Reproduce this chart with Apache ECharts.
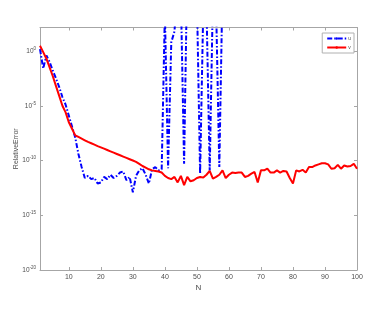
<!DOCTYPE html>
<html>
<head>
<meta charset="utf-8">
<script src="https://cdn.jsdelivr.net/npm/echarts@6/dist/echarts.min.js"></script>
<style>
html,body{margin:0;padding:0;background:#fff;}
#c{width:383px;height:309px;}
</style>
</head>
<body>
<div id="c"></div>
<script>
// N values (x axis)
const N = [1,2,3,4,5,6,7,8,9,10,11,12,13,14,15,16,17,18,19,20,
  21,22,23,24,25,26,27,28,29,30,31,32,33,34,35,36,37,38,39,40,
  41,42,43,44,45,46,47,48,49,50,51,52,53,54,55,56,57,58,59,60,
  61,62,63,64,65,66,67,68,69,70,71,72,73,74,75,76,77,78,79,80,
  81,82,83,84,85,86,87,88,89,90,91,92,93,94,95,96,97,98,99,100];

// log10 of relative error, series "u" (blue, dash-dot)
const blueLog10 = [0.17,-1.6,-0.4,-1.0,-1.8,-2.5,-3.3,-4.2,-4.9,-5.9,
  -6.9,-7.9,-9.4,-10.6,-11.6,-11.4,-11.7,-11.6,-12.1,-12.0,
  -11.5,-11.7,-11.3,-11.6,-11.4,-11.1,-11.0,-11.8,-11.5,-12.9,
  -11.4,-10.9,-10.7,-11.3,-12.1,-10.8,-10.6,-10.9,-10.8,3.5,
  -10.7,0.8,1.8,6,5,-10.3,8,10,9,5,
  -11.2,4,4,-10.9,5,4,-10.6,6,9,12,
  14,16,15,18,20,19,22,24,23,26,
  27,29,28,31,33,32,35,36,38,37,
  40,41,43,42,45,47,46,49,50,52,
  51,54,55,57,56,59,60,62,61,64];

// log10 of relative error, series "v" (red, solid)
const redLog10 = [0.48,-0.1,-0.7,-1.5,-2.3,-3.2,-4.1,-5.0,-5.6,-6.5,
  -7.1,-7.7,-7.85,-8.0,-8.15,-8.3,-8.42,-8.55,-8.68,-8.8,
  -8.92,-9.04,-9.16,-9.28,-9.4,-9.52,-9.64,-9.76,-9.88,-10.0,
  -10.12,-10.3,-10.5,-10.65,-10.8,-10.9,-10.95,-11.0,-11.1,-11.4,
  -11.6,-11.7,-11.5,-12.0,-11.4,-12.25,-11.5,-11.9,-11.8,-11.6,
  -11.5,-11.55,-11.3,-10.95,-11.65,-11.5,-11.3,-10.9,-11.6,-11.3,
  -11.1,-11.15,-11.1,-11.1,-11.5,-11.4,-11.2,-11.05,-12.0,-10.9,
  -10.9,-10.75,-11.1,-11.1,-10.9,-11.1,-10.95,-11.0,-11.6,-12.1,
  -10.9,-11.0,-10.85,-11.1,-10.6,-10.6,-10.45,-10.35,-10.25,-10.25,
  -10.35,-10.75,-10.7,-10.4,-10.75,-10.45,-10.55,-10.5,-10.3,-10.75];

const seriesNames = ['u', 'v'];
const xTickValues = [10,20,30,40,50,60,70,80,90,100];
const yTickExponents = [-20,-15,-10,-5,0];

const font = 'Liberation Sans, Arial, sans-serif';
const axisGrey = '#a6a6a6';
const textGrey = '#4d4d4d';

const chart = echarts.init(document.getElementById('c'), null, {renderer: 'canvas'});
const xCommon = {
  type: 'value', min: 1, max: 100,
  splitLine: {show: false},
  axisLine: {show: true, onZero: false, lineStyle: {color: axisGrey, width: 1}},
  axisTick: {show: true, inside: true, length: 3, customValues: xTickValues, lineStyle: {color: axisGrey}}
};
const yCommon = {
  type: 'value', min: -20, max: 2.15, interval: 5,
  splitLine: {show: false},
  axisLine: {show: true, onZero: false, lineStyle: {color: axisGrey, width: 1}},
  axisTick: {show: true, inside: true, length: 3, customValues: yTickExponents, lineStyle: {color: axisGrey}}
};

chart.setOption({
  animation: false,
  backgroundColor: '#ffffff',
  grid: {left: 40, right: 26, top: 27.5, bottom: 39, containLabel: false},
  legend: {
    data: seriesNames,
    orient: 'vertical',
    right: 29, top: 33,
    itemWidth: 19, itemHeight: 3, itemGap: 4,
    padding: [3, 3, 3, 4],
    borderColor: '#b0b0b0', borderWidth: 1, backgroundColor: '#ffffff',
    textStyle: {fontSize: 5, color: textGrey, fontFamily: font, padding: [0,0,0,-3]}
  },
  xAxis: [
    Object.assign({}, xCommon, {
      position: 'bottom',
      axisLabel: {customValues: xTickValues, fontSize: 7, color: textGrey, fontFamily: font, margin: 4},
      name: 'N', nameLocation: 'middle', nameGap: 14, nameMoveOverlap: false,
      nameTextStyle: {fontSize: 8, color: textGrey, fontFamily: font}
    }),
    Object.assign({}, xCommon, {position: 'top', axisLabel: {show: false}})
  ],
  yAxis: [
    Object.assign({}, yCommon, {
      position: 'left',
      axisLabel: {
        customValues: yTickExponents, margin: 4,
        formatter: v => '{b|10}{s|' + v + '}',
        rich: {
          b: {fontSize: 6.5, color: textGrey, fontFamily: font, lineHeight: 10},
          s: {fontSize: 4.5, color: textGrey, fontFamily: font, verticalAlign: 'top', lineHeight: 10}
        }
      },
      name: 'RelativeError', nameLocation: 'middle', nameGap: 20, nameMoveOverlap: false,
      nameTextStyle: {fontSize: 7, color: textGrey, fontFamily: font}
    }),
    Object.assign({}, yCommon, {position: 'right', axisLabel: {show: false}})
  ],
  series: [
    {
      name: seriesNames[0], type: 'line', xAxisIndex: 0, yAxisIndex: 0,
      data: N.map((n, i) => [n, blueLog10[i]]),
      symbol: 'none', clip: true,
      lineStyle: {color: '#0000ff', width: 2, type: [5, 2, 1.5, 2]},
      itemStyle: {color: '#0000ff'}
    },
    {
      name: seriesNames[1], type: 'line', xAxisIndex: 0, yAxisIndex: 0,
      data: N.map((n, i) => [n, redLog10[i]]),
      symbol: 'none', clip: true,
      lineStyle: {color: '#ff0000', width: 2},
      itemStyle: {color: '#ff0000'}
    }
  ]
});
</script>
</body>
</html>
